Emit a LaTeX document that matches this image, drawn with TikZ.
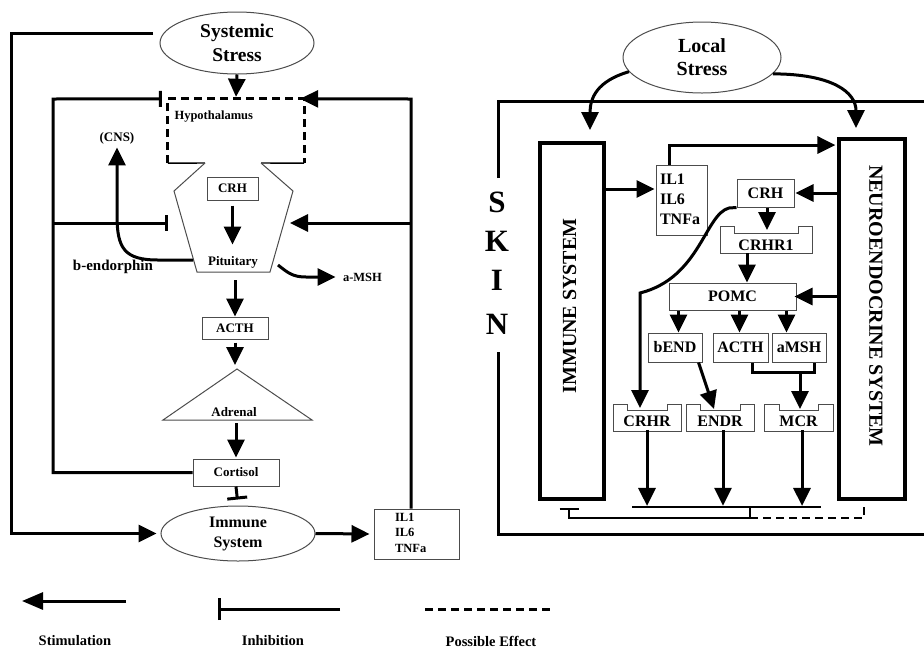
\documentclass[tikz,border=0pt]{standalone}
\usepackage{fontspec}
\setmainfont{Liberation Serif}
\usetikzlibrary{arrows.meta,shapes.geometric,calc}
\begin{document}
\begin{tikzpicture}[x=1pt,y=-1pt,
  ln/.style={line width=3pt},
  stim/.style={ln,-{Triangle[length=18pt,width=17pt]}},
  inh/.style={ln,-{Bar[width=16pt]}},
  thinbox/.style={draw=black!70,line width=1pt,fill=white,inner sep=0pt},
  thinline/.style={draw=black!70,line width=1pt},
  ell/.style={ellipse,draw=black!70,line width=1pt,inner sep=0pt,align=center},
  bigbox/.style={draw,line width=3.2pt,inner sep=0pt},
  fnt/.style={font=\bfseries\fontsize{#1}{#1}\selectfont},
  fl/.style 2 args={font=\bfseries\fontsize{#1}{#2}\selectfont},
  dsh/.style={dash pattern=on 8pt off 5pt},
]
\useasboundingbox (0,0) rectangle (924,649);

% ================= LEFT PANEL =================
\node[ell,minimum width=154,minimum height=62,fl={19.5}{24}] (sys) at (237,43) {Systemic\\Stress};

% hypothalamus
\node[minimum width=136,minimum height=64,inner sep=0pt] (hypB) at (236,131) {};
\draw[ln,dsh] (hypB.south west) -- (hypB.north west) -- (hypB.north east) -- (hypB.south east);
\draw[line width=1.4pt] (hypB.south west) -- (205,163);
\draw[line width=1.4pt] (261,163) -- (hypB.south east);
\node[fnt=12.5,anchor=west] (hyp) at (171,117) {Hypothalamus};

% pituitary outline
\draw[thinline] (205,163) -- (174,191) -- (197,272) -- (270,272) -- (293,191) -- (261,163);
\node[thinbox,minimum width=51,minimum height=23,fnt=13] (crhL) at (232.5,188.5) {CRH};
\node[fnt=13] (pit) at (233,262) {Pituitary};
\draw[stim,shorten <=5pt,shorten >=8pt] (crhL.south) -- (pit.north -| crhL.south);

\draw[stim] (sys.south) -- ([yshift=2pt]hypB.north);

% b-endorphin
\node[fnt=13] (cns) at (117,138) {(CNS)};
\coordinate (bstart) at (193,260);
\draw[stim] (bstart) -- (158,260) .. controls (124,260) and (117,248) .. (117,215) -- (cns.south);
\node[fnt=15] (bend) at (113,267) {b-endorphin};

% a-MSH
\node[fnt=12.5,anchor=west] (amshL) at (339.5,277) {a-MSH};
\coordinate (astart) at (278,265);
\draw[stim,shorten >=4pt] (astart) .. controls (288,273) and (293,277) .. (306,277) -- (amshL.west);

% ACTH, adrenal, cortisol
\node[thinbox,minimum width=66,minimum height=22,fnt=13] (acthL) at (235,328) {ACTH};
\draw[stim,shorten <=9pt] (pit.south -| acthL.north) -- (acthL.north);
\draw[thinline] (237,369) -- (163,420) -- (312,420) -- cycle;
\node[fnt=13] (adr) at (234,412) {Adrenal};
\coordinate (adrtop) at (235,369);
\draw[stim,shorten <=3pt,shorten >=4pt] (acthL.south) -- (adrtop);
\node[thinbox,minimum width=86,minimum height=27,fnt=13] (cort) at (236,472.5) {Cortisol};
\coordinate (adrbot) at (236,420);
\draw[stim,shorten <=3pt,shorten >=1pt] (adrbot) -- (cort.north);

\node[ell,minimum width=154,minimum height=55,fl={16}{20}] (imm) at (238,533.5) {Immune\\System};
\draw[ln,-{Bar[width=20pt]},shorten >=6pt] (cort.south) -- (imm.north);

% IL1 box (left)
\node[thinbox,minimum width=85,minimum height=50] (ilL) at (416.5,534) {};
\node[fl={12.5}{15.5},align=left,anchor=north west] (ilLt) at (391.5,509.5) {IL1\\IL6\\TNFa};
\draw[stim,shorten >=4pt] (imm.east) -- (ilL.west);

% right feedback loop
\coordinate (rt) at (411,99);
\coordinate (rm) at (411,223);
\coordinate (pitR) at (290,223);
\draw[stim,shorten >=-4pt] (ilL.north -| rt) -- (rt) -- (hypB.north east);
\draw[stim] (rm) -- (pitR);

% left inhibitory loop
\coordinate (lt) at (53,99);
\coordinate (lm) at (53,223);
\coordinate (pitL) at (168,223);
\draw[inh,shorten >=6pt] (cort.west) -| (lt) -- (hypB.north west);
\draw[inh] (lm) -- (pitL);

% outer loop
\coordinate (ot) at (153,33);
\draw[stim,shorten >=4pt] (ot) -- (11,33) |- (imm.west);

% ================= LEGEND =================
\coordinate (l1a) at (126,601);
\coordinate (l1b) at (22,601);
\draw[ln,-{Triangle[length=21pt,width=17pt]}] (l1a) -- (l1b);
\coordinate (l2a) at (340,609);
\coordinate (l2b) at (218,609);
\draw[ln,-{Bar[width=22pt]}] (l2a) -- (l2b);
\coordinate (l3a) at (425,609);
\coordinate (l3b) at (553,609);
\draw[ln,dsh] (l3a) -- (l3b);
\node[fnt=14.5] (lgs) at (75,641) {Stimulation};
\node[fnt=14.5] (lgi) at (273,641) {Inhibition};
\node[fnt=14.5] (lgp) at (491,641) {Possible Effect};

% ================= RIGHT PANEL =================
\node[ell,minimum width=158,minimum height=71,fl={20}{23}] (loc) at (702,57.5) {Local\\Stress};

% skin frame
\draw[ln] (498,178) -- (498,101) -- (924,101);
\draw[ln] (498,352) -- (498,534) -- (924,534);
\node[fnt=31] (sS) at (497,202) {S};
\node[fnt=31] (sK) at (497,241) {K};
\node[fnt=31] (sI) at (497,280) {I};
\node[fnt=31] (sN) at (497,324) {N};

% system boxes
\node[bigbox,minimum width=64,minimum height=356] (imR) at (572,321) {};
\node[fnt=20,rotate=90] (imRt) at (569.5,306) {IMMUNE SYSTEM};
\node[bigbox,minimum width=66,minimum height=360] (neR) at (872,319) {};
\node[fnt=20,rotate=-90] (neRt) at (876,306) {NEUROENDOCRINE SYSTEM};

\coordinate (imIn) at (590,130);
\coordinate (neIn) at (856,128);
\draw[stim] (loc.191) .. controls (597,81) and (590,98) .. (imIn);
\draw[stim] (loc.-13) .. controls (832,74) and (856,92) .. (neIn);

% IL1 box (right)
\node[thinbox,minimum width=51,minimum height=70] (ilR) at (681.5,200) {};
\node[fl={16}{20},align=left,anchor=north west] (ilRt) at (656.5,170.5) {IL1\\IL6\\TNFa};
\coordinate (a1) at (604,189);
\draw[stim,shorten >=1pt] (a1) -- (a1 -| ilR.west);
\coordinate (c1) at (669,145);
\draw[stim,shorten >=2pt] (ilR.north -| c1) -- (c1) -- (c1 -| neR.west);

% CRH, CRHR1, POMC
\node[thinbox,minimum width=57,minimum height=28,fnt=16] (crhR) at (765.5,193) {CRH};
\draw[stim,shorten >=1pt] (neR.west |- crhR.east) -- (crhR.east);
\draw[thinline,fill=white] (720,226) -- (734,226) -- (734,233) -- (798,233) -- (798,226) -- (812,226) -- (812,253) -- (720,253) -- cycle;
\node[fnt=16] (crhr1) at (766,245) {CRHR1};
\coordinate (r1t) at (767,230);
\draw[stim] (crhR.south -| r1t) -- (r1t);
\node[thinbox,minimum width=127,minimum height=27,fnt=16] (pomc) at (732.5,296.5) {POMC};
\coordinate (r1b) at (747,253);
\draw[stim] (r1b) -- (r1b |- pomc.north);
\draw[stim,shorten >=-2pt] (neR.west |- pomc.east) -- (pomc.east);

% curve CRH -> CRHR
\coordinate (crhrIn) at (640,408);
\draw[stim] (crhR.south west) -- (729,208) .. controls (705,214) and (700,278) .. (640,293) -- (crhrIn);

% POMC products
\node[thinbox,minimum width=54,minimum height=29,fnt=16] (bendR) at (675,347.5) {bEND};
\node[thinbox,minimum width=55,minimum height=29,fnt=16] (acthR) at (740.5,347.5) {ACTH};
\node[thinbox,minimum width=54,minimum height=29,fnt=16] (amshR) at (799,347.5) {aMSH};
\draw[stim] ($(pomc.south west)+(10,0)$) -- ($(bendR.north west)+(31,0)$);
\draw[stim] ($(pomc.south west)+(71,0)$) -- ($(acthR.north west)+(27,0)$);
\draw[stim] ($(pomc.south west)+(118,0)$) -- ($(amshR.north west)+(15,0)$);

% receptors
\draw[thinline,fill=white] (613,404) -- (627,404) -- (627,410) -- (667,410) -- (667,404) -- (681,404) -- (681,431) -- (613,431) -- cycle;
\draw[thinline,fill=white] (686,404) -- (700,404) -- (700,410) -- (740,410) -- (740,404) -- (754,404) -- (754,431) -- (686,431) -- cycle;
\draw[thinline,fill=white] (764,404) -- (779,404) -- (779,410) -- (818,410) -- (818,404) -- (833,404) -- (833,431) -- (764,431) -- cycle;
\node[fnt=16] (crhr) at (647,421) {CRHR};
\node[fnt=16] (endr) at (720,421) {ENDR};
\node[fnt=16] (mcr) at (798.5,421) {MCR};

\coordinate (endrIn) at (714,409);
\draw[stim] ($(bendR.south east)+(-4,0)$) -- (endrIn);
\draw[ln] ($(acthR.south)+(11.5,0)$) -- ++(0,10) -| ($(amshR.south)+(15,0)$);
\coordinate (mj) at (800,372);
\coordinate (mcrIn) at (800,409);
\draw[stim] (mj) -- (mcrIn);

% outputs
\draw[stim] (crhr.south) -- ++(0,76);
\draw[stim] (endr.south -| 723,0) -- ++(0,76);
\draw[stim] (mcr.south -| 802,0) -- ++(0,76);
\coordinate (bl) at (632,507);
\coordinate (br) at (821,507);
\draw[line width=2.6pt] (bl) -- (br);
\coordinate (bj) at (750,507);
\draw[line width=2.6pt,-{Bar[width=19pt]}] (bj) -- (750,518) -- (569,518) -- (569,507.5);
\draw[line width=2.6pt,dsh] (750,518) -- (864,518) -- (864,505);
\end{tikzpicture}
\end{document}
